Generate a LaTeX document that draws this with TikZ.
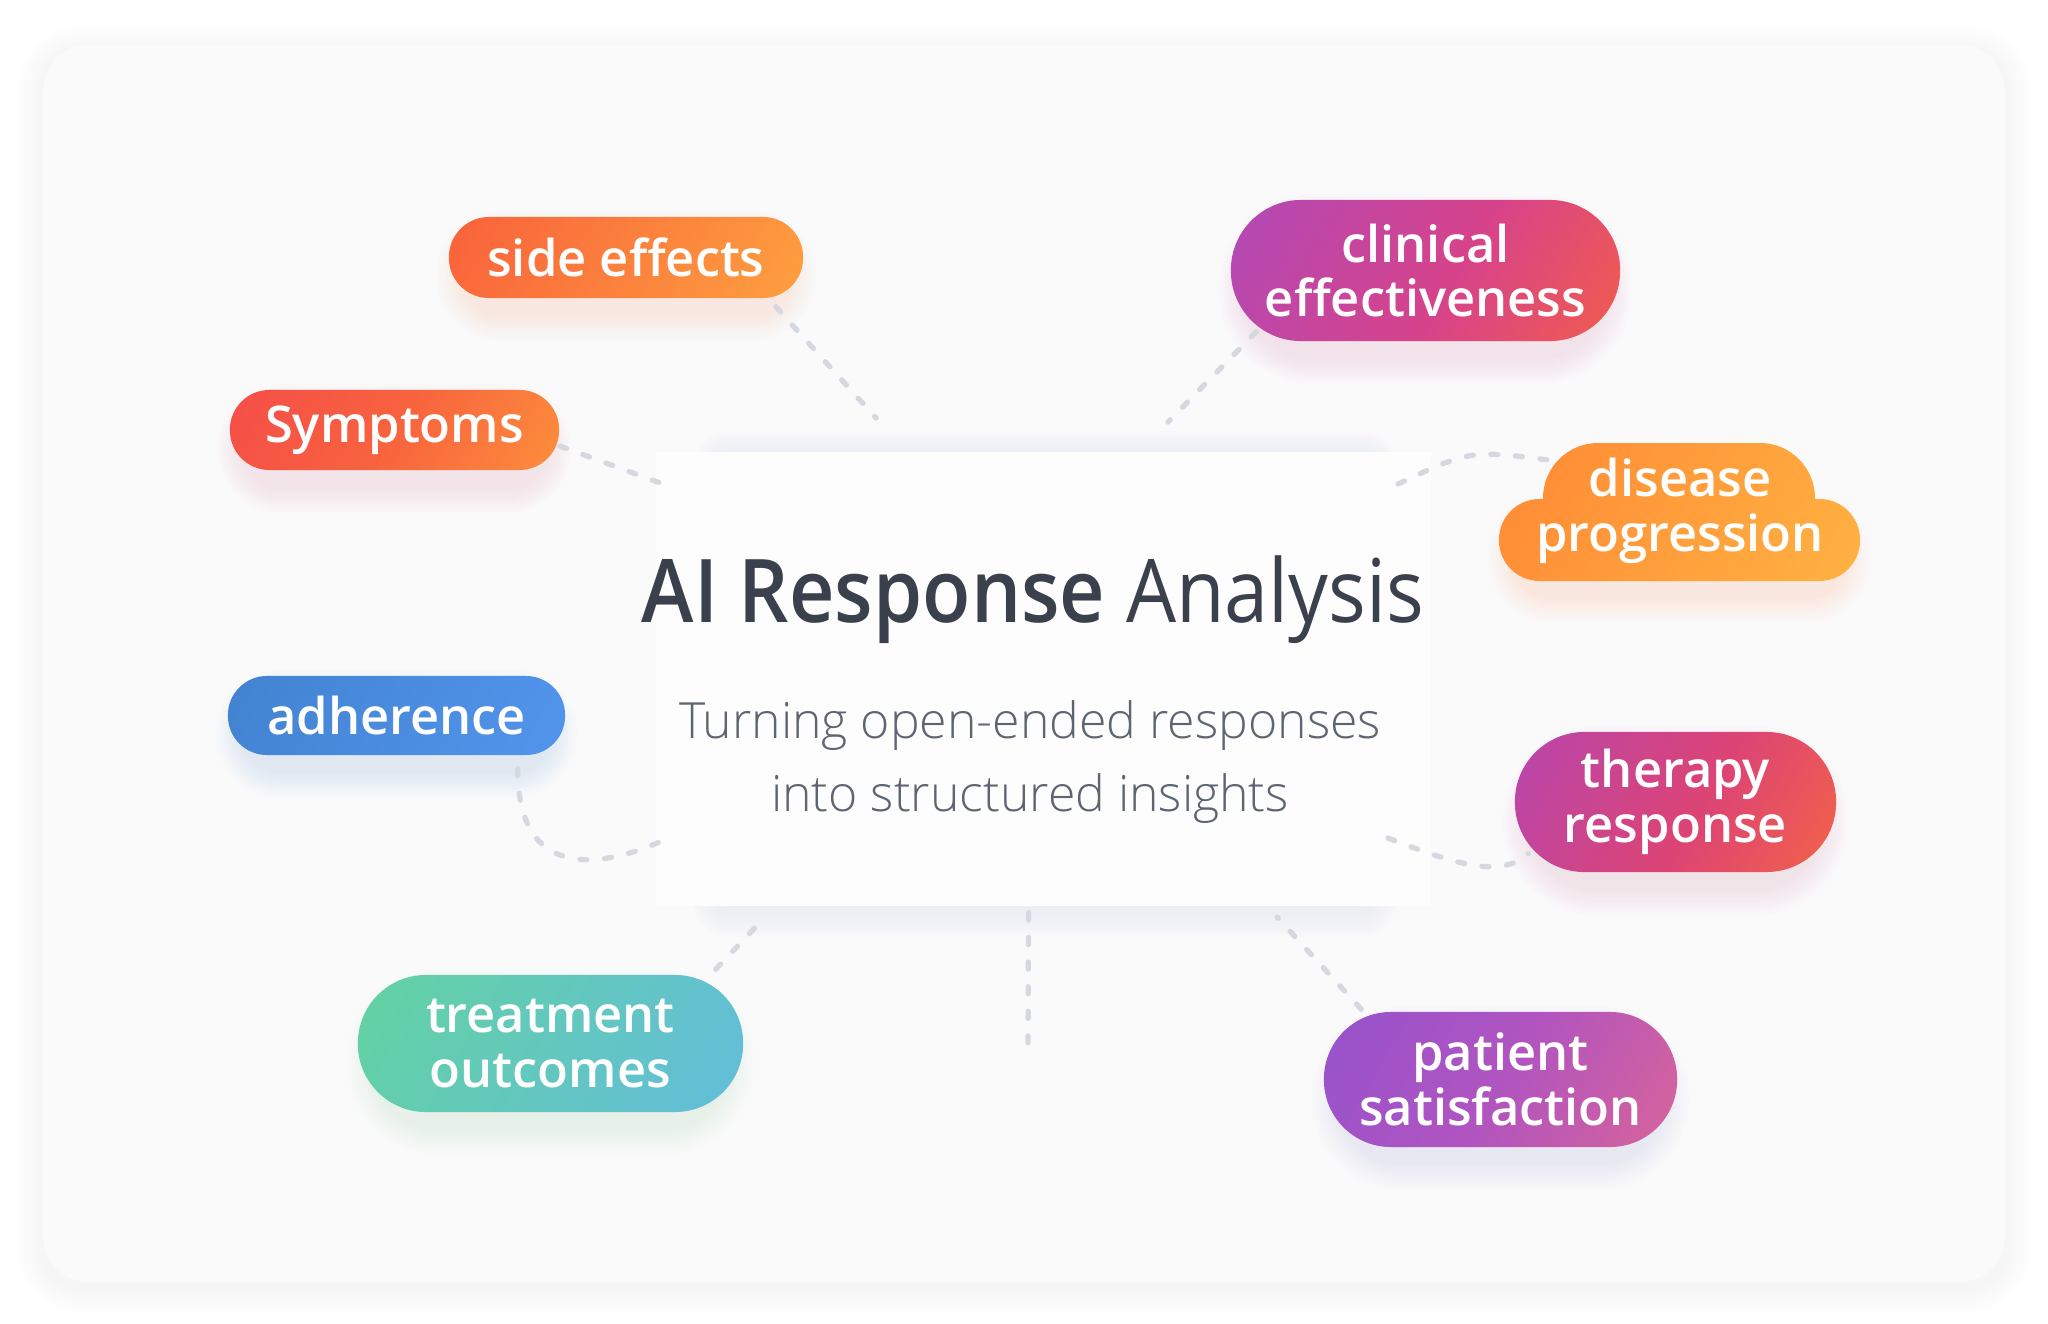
\documentclass[tikz,border=0pt]{standalone}
\usepackage{fontspec}
\setmainfont{Open Sans}
\IfFontExistsTF{Open Sans Semibold}
  {\newfontfamily\semib{Open Sans Semibold}\def\titlexs{0.90}}
  {\IfFontExistsTF{Open Sans SemiBold}
     {\newfontfamily\semib{Open Sans SemiBold}\def\titlexs{0.90}}
     {\def\semib{\bfseries}\def\titlexs{0.87}}}
\IfFontExistsTF{Open Sans Light}
  {\newfontfamily\lightf{Open Sans Light}}
  {\def\lightf{\relax}}
\usetikzlibrary{calc}
\definecolor{pagebg}{HTML}{FFFFFF}
\definecolor{cardbg}{HTML}{FAFAFB}
\definecolor{centerbg}{HTML}{FDFDFE}
\definecolor{titlecol}{HTML}{3A404C}
\definecolor{subcol}{HTML}{5E6470}
\definecolor{dashcol}{HTML}{D5D8DF}
\definecolor{shadowgray}{HTML}{9AA0B0}
\definecolor{sideA}{HTML}{F8533A}\definecolor{sideB}{HTML}{FFAE40}
\definecolor{sympA}{HTML}{F2444E}\definecolor{sympM}{HTML}{F8633E}\definecolor{sympB}{HTML}{FFA23A}
\definecolor{clinA}{HTML}{A24BC8}\definecolor{clinM}{HTML}{D7438A}\definecolor{clinB}{HTML}{FF6A2C}
\definecolor{disA}{HTML}{FF7F32}\definecolor{disB}{HTML}{FFBC45}
\definecolor{adhA}{HTML}{3E7ECA}\definecolor{adhB}{HTML}{5699F2}
\definecolor{treatA}{HTML}{63D794}\definecolor{treatB}{HTML}{63B8E8}
\definecolor{therA}{HTML}{A946C4}\definecolor{therM}{HTML}{DC4474}\definecolor{therB}{HTML}{FF7430}
\definecolor{patA}{HTML}{8A52D2}\definecolor{patM}{HTML}{B054C0}\definecolor{patB}{HTML}{EA6C88}
\pgfdeclarehorizontalshading{shside}{100bp}{color(0bp)=(sideA); color(100bp)=(sideB)}
\pgfdeclarehorizontalshading{shsymp}{100bp}{color(0bp)=(sympA); color(50bp)=(sympM); color(100bp)=(sympB)}
\pgfdeclarehorizontalshading{shclin}{100bp}{color(0bp)=(clinA); color(55bp)=(clinM); color(100bp)=(clinB)}
\pgfdeclarehorizontalshading{shdis}{100bp}{color(0bp)=(disA); color(100bp)=(disB)}
\pgfdeclarehorizontalshading{shadh}{100bp}{color(0bp)=(adhA); color(100bp)=(adhB)}
\pgfdeclarehorizontalshading{shtreat}{100bp}{color(0bp)=(treatA); color(100bp)=(treatB)}
\pgfdeclarehorizontalshading{shther}{100bp}{color(0bp)=(therA); color(55bp)=(therM); color(100bp)=(therB)}
\pgfdeclarehorizontalshading{shpat}{100bp}{color(0bp)=(patA); color(50bp)=(patM); color(100bp)=(patB)}
% soft shadow: x1 y1 x2 y2 radius(px) colour offset(px) opacity
\newcommand\softshadow[8]{%
  \foreach \k in {1,...,9}{%
    \fill[#6,opacity=#8,rounded corners={(#5+3*\k)*0.01cm}]
      ({#1-3*\k},{#2+#7-3*\k}) rectangle ({#3+3*\k},{#4+#7+3*\k});}}
\begin{document}
\begin{tikzpicture}[x=0.01cm,y=-0.01cm,
  pilltext/.style={text=white, font=\fontsize{14.4pt}{15.6pt}\selectfont\semib,
    align=center, inner sep=0pt},
  pill/.style={pilltext, shading angle=-30},
  conn/.style={draw=dashcol, line width=1.5pt, line cap=round, dash pattern=on 2pt off 5pt}]
\useasboundingbox (0,0) rectangle (2048,1324);
\fill[pagebg] (0,0) rectangle (2048,1324);
% outer card
\softshadow{43}{45}{2005}{1282}{40}{shadowgray}{6}{0.006}
\fill[cardbg, rounded corners=0.45cm] (43,45) rectangle (2005,1282);
% centre card with shadow visible mainly above and below
\softshadow{720}{448}{1370}{900}{10}{shadowgray}{10}{0.010}
\node[fill=centerbg, minimum width=7.75cm, minimum height=4.54cm, inner sep=0pt] (card) at (1043.5,679) {};
% free ends of connectors
\coordinate (e1) at (876,418);
\coordinate (e2) at (663,484);
\coordinate (e3) at (1168,422);
\coordinate (e4) at (1398,484);
\coordinate (e5) at (666,839);
\coordinate (e6) at (765,917);
\coordinate (e7) at (1028,1050);
\coordinate (e8) at (1388,838);
\coordinate (e9) at (1277,917);
% pill shadows
\softshadow{464}{222}{788}{298}{36}{sideA}{16}{0.012}
\softshadow{245}{395}{544}{470}{36}{sympA}{16}{0.012}
\softshadow{1246}{205}{1605}{341}{66}{clinM}{16}{0.012}
\softshadow{1514}{504}{1845}{581}{37}{disA}{16}{0.012}
\softshadow{243}{681}{550}{755}{36}{adhA}{16}{0.012}
\softshadow{373}{980}{728}{1112}{64}{treatA}{16}{0.012}
\softshadow{1530}{737}{1821}{872}{66}{therM}{16}{0.012}
\softshadow{1339}{1017}{1662}{1147}{63}{patA}{16}{0.012}
% pills
\node[pill, shading=shside, minimum width=3.54cm, minimum height=0.81cm, rounded corners=0.40cm] (side) at (626,257.5) {side effects};
\node[pill, shading=shsymp, minimum width=3.29cm, minimum height=0.80cm, rounded corners=0.395cm] (symp) at (394.5,430) {Symptoms};
\node[pill, shading=shclin, minimum width=3.89cm, minimum height=1.41cm, rounded corners=0.70cm] (clin) at (1425.5,270.5) {clinical\\effectiveness};
\shade[shading=shdis, shading angle=-30]
  [rounded corners=0.55cm] (1543,443) rectangle (1815,570)
  [rounded corners=0.405cm] (1499,499) rectangle (1860,581);
\node[pilltext, minimum width=3.0cm, minimum height=1.2cm] (dis) at (1680,511) {disease\\progression};
\node[pill, shading=shadh, minimum width=3.37cm, minimum height=0.79cm, rounded corners=0.39cm] (adh) at (396.5,715.5) {adherence};
\node[pill, shading=shtreat, minimum width=3.85cm, minimum height=1.37cm, rounded corners=0.68cm] (treat) at (550.5,1043.5) {treatment\\outcomes};
\node[pill, shading=shther, minimum width=3.21cm, minimum height=1.40cm, rounded corners=0.695cm] (ther) at (1675.5,802) {therapy\\response};
\node[pill, shading=shpat, minimum width=3.53cm, minimum height=1.35cm, rounded corners=0.67cm] (pat) at (1500.5,1079.5) {patient\\satisfaction};
% connectors
\draw[conn] ([shift={(-28,8)}]side.south east) -- (e1);
\draw[conn] ([shift={(0,16)}]symp.east) -- (e2);
\draw[conn] ([shift={(26,-10)}]clin.south west) -- (e3);
\draw[conn] (e4) .. controls (1470,450) .. ([shift={(22,10)}]dis.north west);
\draw[conn] ([shift={(-48,13)}]adh.south east) .. controls (517,880) and (600,870) .. (e5);
\draw[conn] ([shift={(-28,-5)}]treat.north east) -- (e6);
\draw[conn] ([shift={(-15,6)}]card.south) -- (e7);
\draw[conn] (e8) .. controls (1450,862) and (1500,880) .. ([shift={(14,-19)}]ther.south west);
\draw[conn] ([shift={(38,-2)}]pat.north west) -- (e9);
% titles
\node[text=titlecol, font=\fontsize{25pt}{30pt}\selectfont, inner sep=0pt, xscale=\titlexs] (title) at (1033,600)
  {{\semib AI Response} Analysis};
\node[text=subcol, font=\fontsize{14.2pt}{20.8pt}\selectfont\lightf, align=center, inner sep=0pt] (sub) at (1030,762)
  {Turning open-ended responses\\into structured insights};
\end{tikzpicture}
\end{document}
